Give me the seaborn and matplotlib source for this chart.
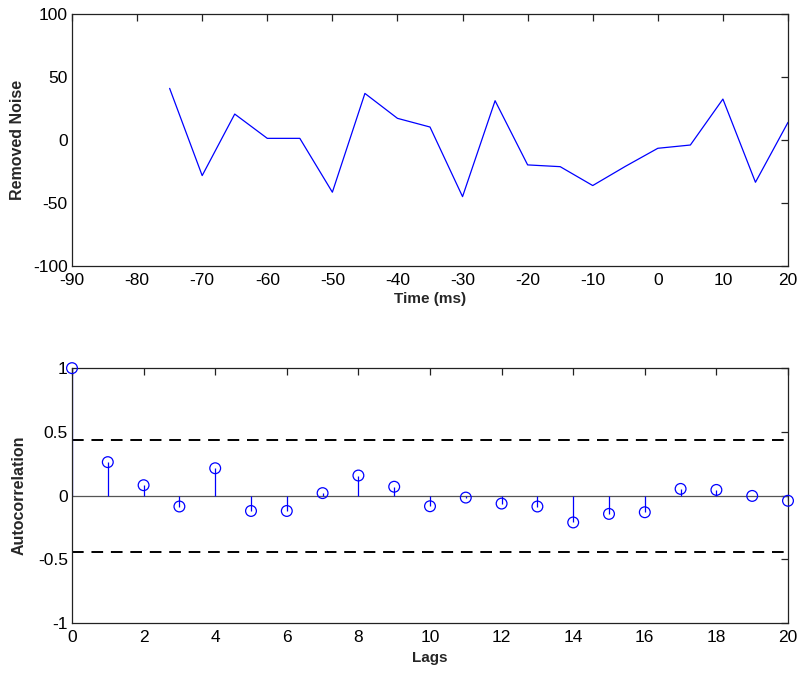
import numpy as np
import pandas as pd
import matplotlib
matplotlib.use('Agg')
import matplotlib.pyplot as plt
import seaborn as sns

# values
time_ms = [-75, -70, -65, -60, -55, -50, -45, -40, -35, -30, -25, -20, -15, -10, -5, 0, 5, 10, 15, 20]
noise = [41, -28.3, 20.6, 1.3, 1.3, -41.5, 37, 17.2, 10.3, -45, 31.2, -19.8, -21.2, -36.2, -21, -6.6, -4, 32.5, -33.6, 14]

lags = list(range(21))
acf = [1.0, 0.263, 0.082, -0.085, 0.215, -0.12, -0.12, 0.02, 0.158, 0.07,
       -0.083, -0.015, -0.062, -0.085, -0.21, -0.143, -0.13, 0.053, 0.045, -0.002, -0.04]
conf_bound = 0.44

sns.set_style('white')
plt.rcParams['font.family'] = ['Liberation Sans', 'DejaVu Sans']
plt.rcParams['axes.unicode_minus'] = False
plt.rcParams['axes.edgecolor'] = '#222222'
plt.rcParams['axes.linewidth'] = 0.9

fig = plt.figure(figsize=(8, 6.73), dpi=100)
ax1 = fig.add_axes([0.09, 0.605, 0.895, 0.374])
ax2 = fig.add_axes([0.09, 0.074, 0.895, 0.379])

# top: removed noise
df = pd.DataFrame({'time': time_ms, 'noise': noise})
sns.lineplot(data=df, x='time', y='noise', ax=ax1, color='#0000ff', linewidth=0.9)
ax1.set_xlim(-90, 20)
ax1.set_ylim(-100, 100)
ax1.set_xticks(np.arange(-90, 21, 10))
ax1.set_yticks([-100, -50, 0, 50, 100])
ax1.set_xlabel('Time (ms)', fontsize=11, fontweight='bold', labelpad=3)
ax1.set_ylabel('Removed Noise', fontsize=11.5, fontweight='bold', labelpad=6)

# bottom: autocorrelation stems
adf = pd.DataFrame({'lag': lags, 'acf': acf})
ax2.axhline(0, color='#555555', linewidth=0.9, zorder=1)
ax2.vlines(adf['lag'], 0, adf['acf'], color='#0000ff', linewidth=0.9, zorder=2)
sns.scatterplot(data=adf, x='lag', y='acf', ax=ax2, marker='o', s=60,
                facecolor='none', edgecolor='#0000ff', linewidth=0.9, zorder=3, clip_on=False)
for b in (conf_bound, -conf_bound):
    ax2.axhline(b, color='black', linewidth=1.4, linestyle=(0, (6, 4)), zorder=1)
ax2.set_xlim(0, 20)
ax2.set_ylim(-1, 1)
ax2.set_xticks(np.arange(0, 21, 2))
ax2.set_yticks([-1, -0.5, 0, 0.5, 1])
ax2.set_yticklabels(['-1', '-0.5', '0', '0.5', '1'])
ax2.set_xlabel('Lags', fontsize=11, fontweight='bold', labelpad=4)
ax2.set_ylabel('Autocorrelation', fontsize=11.5, fontweight='bold', labelpad=8)

for ax in (ax1, ax2):
    for s in ax.spines.values():
        s.set_visible(True)
    ax.tick_params(direction='in', length=5, width=0.9, top=True, right=True,
                   labelsize=12.5, colors='#222222', labelcolor='black')
    ax.tick_params(axis='x', pad=5)
    ax.tick_params(axis='y', pad=3)

fig.savefig('out.png', dpi=100)
